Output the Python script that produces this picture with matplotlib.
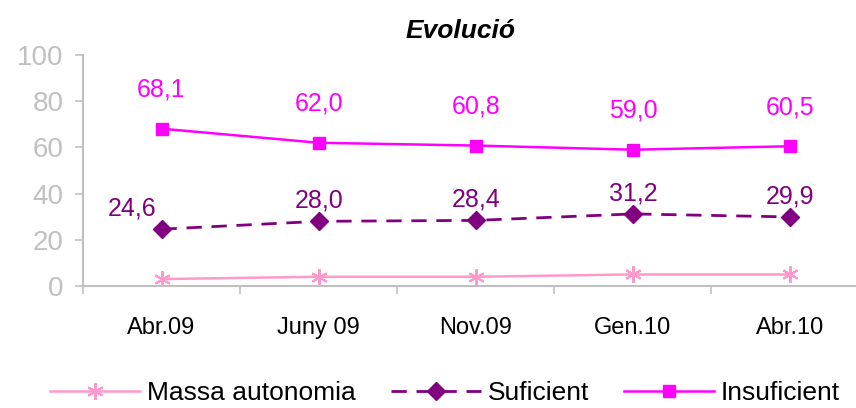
import numpy as np
import matplotlib
matplotlib.use("Agg")
import matplotlib.pyplot as plt

plt.rcParams['font.family'] = ['Liberation Sans', 'DejaVu Sans']

categories = ['Abr.09', 'Juny 09', 'Nov.09', 'Gen.10', 'Abr.10']
massa = [3.0, 4.0, 4.0, 5.0, 5.0]
suficient = [24.6, 28.0, 28.4, 31.2, 29.9]
insuficient = [68.1, 62.0, 60.8, 59.0, 60.5]

c_massa = '#FF99CC'
c_suf = '#800080'
c_insuf = '#FF00FF'
grey = '#C0C0C0'

fig = plt.figure(figsize=(8.56, 4.08), dpi=100)
ax = fig.add_axes([83 / 856, 1 - 286 / 408, 1 - 83 / 856, (286 - 55) / 408])
x = np.arange(len(categories))

ax.plot(x, massa, color=c_massa, lw=1.8, marker=(6, 2, 0), ms=12, mew=1.5,
        label='Massa autonomia')
ax.plot(x, suficient, color=c_suf, lw=2, dashes=(5.5, 3.5), marker='D', ms=9,
        label='Suficient')
ax.plot(x, insuficient, color=c_insuf, lw=1.8, marker='s', ms=9,
        label='Insuficient')

def fmt(v):
    return f'{v:.1f}'.replace('.', ',')

for i, v in enumerate(insuficient):
    ax.annotate(fmt(v), (x[i], v), xytext=(0, 28), textcoords='offset points',
                ha='center', va='center', color=c_insuf, fontsize=18)
for i, v in enumerate(suficient):
    dx = -21 if i == 0 else 0
    ax.annotate(fmt(v), (x[i], v), xytext=(dx, 15), textcoords='offset points',
                ha='center', va='center', color=c_suf, fontsize=18)

ax.set_ylim(0, 100)
ax.set_yticks(np.arange(0, 101, 20))
ax.set_xlim(-0.5, 4.42)
ax.set_xticks(x)
ax.set_xticklabels(categories, fontsize=17)
ax.set_xticks(np.arange(-0.5, 4.5, 1), minor=True)
ax.tick_params(axis='x', which='major', length=0, pad=22)
ax.tick_params(axis='x', which='minor', length=6, color=grey, width=1.2)
ax.tick_params(axis='y', length=6, color=grey, width=1.2, labelcolor=grey,
               labelsize=20, pad=8)
for s in ['top', 'right']:
    ax.spines[s].set_visible(False)
for s in ['left', 'bottom']:
    ax.spines[s].set_color(grey)
    ax.spines[s].set_linewidth(1.5)

ax.set_title('Evolució', fontsize=19, fontweight='bold', fontstyle='italic', pad=12,
             x=0.488)

fig.legend(loc='center', bbox_to_anchor=(0.52, 1 - 393 / 408), ncol=3, frameon=False,
           fontsize=19, handlelength=3.4, columnspacing=1.35, handletextpad=0.25)

fig.savefig('out.png', dpi=100)
